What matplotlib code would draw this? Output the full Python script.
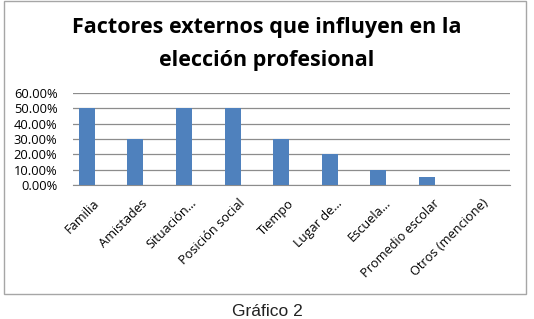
import matplotlib.pyplot as plt
from matplotlib.patches import Rectangle
from matplotlib.ticker import FuncFormatter

categorias = ['Familia', 'Amistades', 'Situación...', 'Posición social', 'Tiempo',
              'Lugar de...', 'Escuela...', 'Promedio escolar', 'Otros (mencione)']
porcentajes = [0.50, 0.30, 0.50, 0.50, 0.30, 0.20, 0.10, 0.05, 0.0]
yticks = [0.0, 0.1, 0.2, 0.3, 0.4, 0.5, 0.6]

fig = plt.figure(figsize=(5.34, 3.19), dpi=100)

# outer chart frame
fig.patches.append(Rectangle((4 / 534, 1 - 294 / 319), 522 / 534, 293 / 319,
                             transform=fig.transFigure, fill=False,
                             edgecolor='#a6a6a6', linewidth=1))

ax = fig.add_axes([72.7 / 534, 1 - 185 / 319, (510 - 72.7) / 534, 92 / 319])
x = list(range(len(categorias)))
ax.bar(x, porcentajes, width=0.33, color='#4f81bd', zorder=3)
ax.set_xlim(-0.29, 8.71)
ax.set_ylim(0, 0.6)
ax.set_yticks(yticks)
ax.yaxis.set_major_formatter(FuncFormatter(lambda v, p: '%.2f%%' % (v * 100)))
ax.grid(axis='y', color='#8c8c8c', linewidth=0.9, zorder=0)
for s in ['top', 'right', 'left']:
    ax.spines[s].set_visible(False)
ax.spines['bottom'].set_color('#8c8c8c')
ax.tick_params(axis='y', length=0, labelsize=9.3, pad=11)
ax.tick_params(axis='x', length=0, pad=8.5)
ax.set_xticks([i + 0.12 for i in x])
ax.set_xticklabels(categorias, rotation=45, ha='right', rotation_mode='anchor',
                   fontsize=9.2, family='Open Sans')
for t in ax.get_yticklabels():
    t.set_family('Open Sans')

fig.text(0.5, 1 - 33.5 / 319, 'Factores externos que influyen en la', ha='center',
         va='baseline', fontsize=15.5, fontweight='bold', family='Open Sans')
fig.text(0.5, 1 - 66 / 319, 'elección profesional', ha='center',
         va='baseline', fontsize=15.5, fontweight='bold', family='Open Sans')

fig.text(0.5, 1 - 316 / 319, 'Gráfico 2', ha='center', va='baseline',
         fontsize=12.5, family='Liberation Sans', color='#222222')

fig.savefig('out.png', dpi=100)
